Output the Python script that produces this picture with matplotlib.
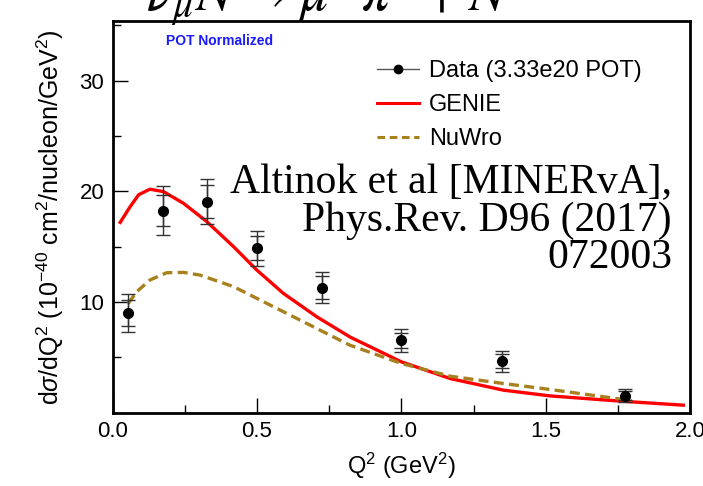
import matplotlib
matplotlib.use('Agg')
import matplotlib.pyplot as plt
from matplotlib.lines import Line2D
from matplotlib.ticker import MultipleLocator, FormatStrFormatter

plt.rcParams['font.family'] = ['Liberation Sans', 'DejaVu Sans']
plt.rcParams['mathtext.fontset'] = 'custom'
plt.rcParams['mathtext.rm'] = 'Liberation Sans'
plt.rcParams['mathtext.it'] = 'Liberation Sans:italic'
plt.rcParams['mathtext.bf'] = 'Liberation Sans:bold'

# data points
q2 = [0.054, 0.175, 0.326, 0.50, 0.726, 1.0, 1.35, 1.775]
xsec = [9.0, 18.26, 19.08, 14.86, 11.3, 6.53, 4.66, 1.55]
err_tot = [1.75, 2.2, 2.0, 1.6, 1.4, 1.0, 0.95, 0.6]
err_stat = [1.2, 1.4, 1.5, 1.1, 1.05, 0.7, 0.65, 0.4]

# GENIE curve
genie_x = [0.026, 0.06, 0.09, 0.129, 0.176, 0.245, 0.326, 0.419, 0.499, 0.591,
           0.707, 0.823, 1.0, 1.169, 1.353, 1.515, 1.746, 1.977]
genie_y = [17.2, 18.6, 19.7, 20.2, 19.98, 18.93, 17.27, 15.0, 12.9, 10.79,
           8.67, 6.83, 4.6, 3.09, 2.04, 1.52, 1.07, 0.68]

# NuWro curve
nuwro_x = [0.054, 0.083, 0.129, 0.187, 0.245, 0.302, 0.419, 0.534, 0.649,
           0.764, 0.822, 1.0, 1.169, 1.353, 1.515, 1.746, 1.798]
nuwro_y = [9.88, 10.93, 11.99, 12.65, 12.68, 12.44, 11.39, 9.88, 8.37,
           6.86, 6.1, 4.45, 3.3, 2.64, 2.1, 1.28, 1.07]

genie_col = '#ff0000'
nuwro_col = '#a8801e'

fig = plt.figure(figsize=(7.03, 4.86), dpi=100)
ax = fig.add_axes([0.1603, 0.1508, 0.8212, 0.806])

ax.plot(genie_x, genie_y, color=genie_col, lw=2.4, zorder=2)
ax.plot(nuwro_x, nuwro_y, color=nuwro_col, lw=2.4, dashes=(3, 1.6), zorder=2)

ax.errorbar(q2, xsec, yerr=err_tot, fmt='none', ecolor='#333333',
            elinewidth=1, capsize=5, capthick=1, zorder=3)
ax.errorbar(q2, xsec, yerr=err_stat, fmt='o', color='black', ms=7,
            ecolor='#333333', elinewidth=1, capsize=5, capthick=1, zorder=4)

ax.set_xlim(0, 2.0)
ax.set_ylim(0, 35.4)
ax.xaxis.set_major_locator(MultipleLocator(0.5))
ax.xaxis.set_minor_locator(MultipleLocator(0.25))
ax.xaxis.set_major_formatter(FormatStrFormatter('%.1f'))
ax.set_yticks([10, 20, 30])
ax.yaxis.set_minor_locator(MultipleLocator(5))
ax.tick_params(which='major', direction='in', length=11, width=1,
               labelsize=16, pad=6)
ax.tick_params(which='minor', direction='in', length=6, width=1)
for s in ax.spines.values():
    s.set_linewidth(2)

ax.set_xlabel('Q$^{2}$ (GeV$^{2}$)', fontsize=17, labelpad=6)
ax.set_ylabel('d$\\sigma$/dQ$^{2}$ (10$^{-40}$ cm$^{2}$/nucleon/GeV$^{2}$)',
              fontsize=18, labelpad=10)

ax.text(0.092, 0.949, 'POT Normalized', transform=ax.transAxes, color='#1a1aff',
        fontsize=10, fontweight='bold', va='center')

handles = [
    Line2D([], [], color='#555555', lw=1, marker='o', mfc='black', mec='black', ms=6),
    Line2D([], [], color=genie_col, lw=2.2),
    Line2D([], [], color=nuwro_col, lw=2.2, dashes=(2.5, 1.5)),
]
fig.legend(handles, ['Data (3.33e20 POT)', 'GENIE', 'NuWro'],
           loc='upper left', bbox_to_anchor=(365 / 703, 1 - 48 / 486),
           frameon=False, fontsize=17, handlelength=1.8, handletextpad=0.4,
           labelspacing=0.52, borderpad=0)

fig.text(672 / 703, 1 - 164 / 486,
         'Altinok et al [MINERvA],\nPhys.Rev. D96 (2017)\n072003',
         family=['Liberation Serif', 'DejaVu Serif'], fontsize=30,
         ha='right', va='top', linespacing=0.96)

# title cut off at the top of the picture
fig.text(328 / 703, 1 - 10 / 486, '$\\nu_{\\mu} N \\rightarrow \\mu^{-} \\pi^{0} + N$',
         fontsize=40, ha='center', va='baseline', math_fontfamily='stix')

fig.savefig('out.png', dpi=100)
